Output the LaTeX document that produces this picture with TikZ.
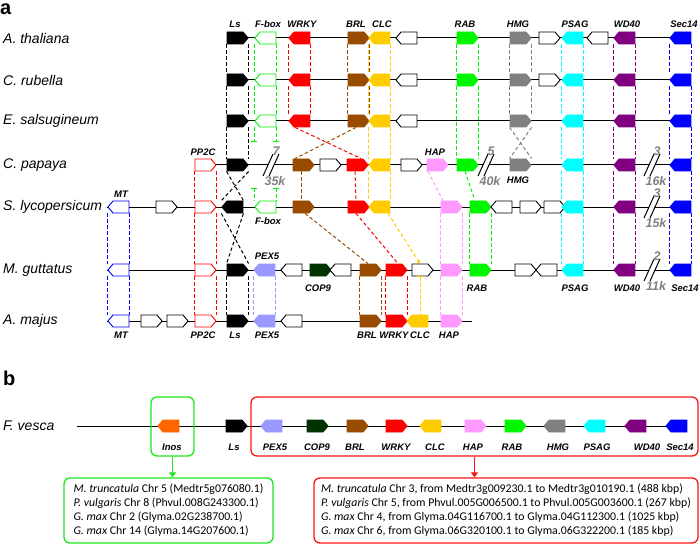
\documentclass[tikz,border=0pt]{standalone}
\usepackage{fontspec}
\setmainfont{Liberation Sans}
\newfontfamily\listfont{Carlito}
\usetikzlibrary{shapes.symbols, arrows.meta, backgrounds}

\definecolor{cBRL}{RGB}{153,76,0}
\definecolor{cCLC}{RGB}{255,204,0}
\definecolor{cRAB}{RGB}{0,245,0}
\definecolor{cHMG}{RGB}{128,128,128}
\definecolor{cPSAG}{RGB}{0,255,255}
\definecolor{cWD}{RGB}{128,0,128}
\definecolor{cSec}{RGB}{0,0,255}
\definecolor{cHAP}{RGB}{255,153,255}
\definecolor{cPEX}{RGB}{153,153,255}
\definecolor{cCOP}{RGB}{0,51,0}
\definecolor{cInos}{RGB}{255,102,0}
\definecolor{cGap}{RGB}{128,128,128}
\definecolor{cBoxG}{RGB}{30,230,30}
\definecolor{cBoxR}{RGB}{250,20,20}

\tikzset{
  gene/.style={signal, signal to=#1, signal pointer angle=100, minimum width=21pt, minimum height=12pt, inner sep=0pt, line width=0.9pt},
  gene/.default=east,
  filled/.style={fill=#1, draw=#1},
  hollow/.style={fill=white, draw=#1},
  hollow/.default=black,
  species/.style={anchor=west, inner sep=0pt, font=\fontsize{14}{16}\selectfont\itshape},
  genelabel/.style={inner sep=0pt, font=\fontsize{9.5}{11}\selectfont\bfseries\itshape},
  gaplabel/.style={inner sep=0pt, text=cGap, font=\fontsize{12.5}{14}\selectfont\bfseries\itshape},
  homolog/.style={line width=1pt, dash pattern=on 3.5pt off 2.5pt},
  chrom/.style={line width=1pt},
  listbox/.style={rounded corners=6pt, line width=1.3pt, align=left, inner sep=0pt, font=\listfont\fontsize{11.8}{14}\selectfont},
}

\begin{document}
\begin{tikzpicture}[x=1pt, y=-1pt]
  \useasboundingbox (0,0) rectangle (700,545);
  % Panel letters
  \node (panelA) [anchor=base west, inner sep=0pt, font=\fontsize{20}{22}\selectfont\bfseries] at (0,15) {a};
  \node (panelB) [anchor=base west, inner sep=0pt, font=\fontsize{20}{22}\selectfont\bfseries] at (3,385) {b};

  % A. thaliana
  \node (athName) [species] at (3,38) {A. thaliana};
  \node (athLs) [gene, filled=black] at (235,38) {};
  \node (athFbox) [gene=west, hollow=cRAB] at (268,38) {};
  \node (athWRKY) [gene=west, filled=red] at (302,38) {};
  \node (athBRL) [gene, filled=cBRL] at (356,38) {};
  \node (athCLC) [gene=west, filled=cCLC] at (382,38) {};
  \node (athX1) [gene=west, hollow] at (409,38) {};
  \node (athRAB) [gene, filled=cRAB] at (465,38) {};
  \node (athHMG) [gene, filled=cHMG] at (518,38) {};
  \node (athX2) [gene, hollow] at (547,38) {};
  \node (athPSAG) [gene=west, filled=cPSAG] at (575,38) {};
  \node (athX3) [gene=west, hollow] at (600,38) {};
  \node (athWD40) [gene=west, filled=cWD] at (627,38) {};
  \node (athSec14) [gene=west, filled=cSec] at (683,38) {};

  % C. rubella
  \node (cruName) [species] at (3,80) {C. rubella};
  \node (cruLs) [gene, filled=black] at (235,80) {};
  \node (cruFbox) [gene=west, hollow=cRAB] at (268,80) {};
  \node (cruWRKY) [gene=west, filled=red] at (302,80) {};
  \node (cruBRL) [gene, filled=cBRL] at (356,80) {};
  \node (cruCLC) [gene=west, filled=cCLC] at (382,80) {};
  \node (cruX1) [gene=west, hollow] at (409,80) {};
  \node (cruRAB) [gene, filled=cRAB] at (465,80) {};
  \node (cruHMG) [gene, filled=cHMG] at (518,80) {};
  \node (cruX2) [gene, hollow] at (547,80) {};
  \node (cruPSAG) [gene=west, filled=cPSAG] at (575,80) {};
  \node (cruWD40) [gene=west, filled=cWD] at (627,80) {};
  \node (cruSec14) [gene=west, filled=cSec] at (683,80) {};

  % E. salsugineum
  \node (esaName) [species] at (3,121) {E. salsugineum};
  \node (esaLs) [gene, filled=black] at (235,121) {};
  \node (esaFbox) [gene=west, hollow=cRAB] at (268,121) {};
  \node (esaWRKY) [gene=west, filled=red] at (302,121) {};
  \node (esaBRL) [gene, filled=cBRL] at (356,121) {};
  \node (esaCLC) [gene=west, filled=cCLC] at (382,121) {};
  \node (esaX1) [gene=west, hollow] at (409,121) {};
  \node (esaHMG) [gene, filled=cHMG] at (518,121) {};
  \node (esaPSAG) [gene=west, filled=cPSAG] at (575,121) {};
  \node (esaWD40) [gene=west, filled=cWD] at (627,121) {};
  \node (esaSec14) [gene=west, filled=cSec] at (683,121) {};

  % C. papaya
  \node (cpaName) [species] at (3,165) {C. papaya};
  \node (cpaPP2C) [gene, hollow=red] at (203,165) {};
  \node (cpaLs) [gene, filled=black] at (235,165) {};
  \node (cpaBRL) [gene, filled=cBRL] at (301,165) {};
  \node (cpaX1) [gene, hollow] at (328,165) {};
  \node (cpaWRKY) [gene, filled=red] at (355,165) {};
  \node (cpaCLC) [gene=west, filled=cCLC] at (382,165) {};
  \node (cpaX2) [gene, hollow] at (409,165) {};
  \node (cpaHAP) [gene, filled=cHAP] at (435,165) {};
  \node (cpaRAB) [gene, filled=cRAB] at (465,165) {};
  \node (cpaHMG) [gene, filled=cHMG] at (518,165) {};
  \node (cpaPSAG) [gene=west, filled=cPSAG] at (575,165) {};
  \node (cpaWD40) [gene=west, filled=cWD] at (627,165) {};
  \node (cpaSec14) [gene=west, filled=cSec] at (683,165) {};

  % S. lycopersicum
  \node (slyName) [species] at (3,207) {S. lycopersicum};
  \node (slyMT) [gene=west, hollow=cSec] at (121,207) {};
  \node (slyX1) [gene, hollow] at (164,207) {};
  \node (slyPP2C) [gene, hollow=red] at (203,207) {};
  \node (slyLs) [gene=west, filled=black] at (235,207) {};
  \node (slyFbox) [gene=west, hollow=cRAB] at (268,207) {};
  \node (slyBRL) [gene, filled=cBRL] at (301,207) {};
  \node (slyWRKY) [gene, filled=red] at (356,207) {};
  \node (slyCLC) [gene=west, filled=cCLC] at (382,207) {};
  \node (slyHAP) [gene, filled=cHAP] at (449,207) {};
  \node (slyRAB) [gene, filled=cRAB] at (478,207) {};
  \node (slyX2) [gene=west, hollow] at (504,207) {};
  \node (slyX3) [gene, hollow] at (528,207) {};
  \node (slyX4) [gene, hollow] at (552,207) {};
  \node (slyPSAG) [gene=west, filled=cPSAG] at (575,207) {};
  \node (slyWD40) [gene=west, filled=cWD] at (627,207) {};
  \node (slySec14) [gene=west, filled=cSec] at (683,207) {};

  % M. guttatus
  \node (mguName) [species] at (3,270) {M. guttatus};
  \node (mguMT) [gene=west, hollow=cSec] at (121,270) {};
  \node (mguPP2C) [gene, hollow=red] at (203,270) {};
  \node (mguLs) [gene, filled=black] at (235,270) {};
  \node (mguPEX5) [gene=west, filled=cPEX] at (267,270) {};
  \node (mguX1) [gene=west, hollow] at (294,270) {};
  \node (mguCOP9) [gene, filled=cCOP] at (318,270) {};
  \node (mguX2) [gene=west, hollow] at (343,270) {};
  \node (mguBRL) [gene, filled=cBRL] at (368,270) {};
  \node (mguWRKY) [gene, filled=red] at (394,270) {};
  \node (mguCLC) [gene, hollow] at (420,270) {};
  \node (mguHAP) [gene, filled=cHAP] at (449,270) {};
  \node (mguRAB) [gene, filled=cRAB] at (478,270) {};
  \node (mguX3) [gene, hollow] at (523,270) {};
  \node (mguX4) [gene=west, hollow] at (549,270) {};
  \node (mguPSAG) [gene=west, filled=cPSAG] at (575,270) {};
  \node (mguWD40) [gene=west, filled=cWD] at (627,270) {};
  \node (mguSec14) [gene=west, filled=cSec] at (683,270) {};

  % A. majus
  \node (amaName) [species] at (3,321) {A. majus};
  \node (amaMT) [gene=west, hollow=cSec] at (121,321) {};
  \node (amaX1) [gene, hollow] at (149,321) {};
  \node (amaX2) [gene, hollow] at (175,321) {};
  \node (amaPP2C) [gene, hollow=red] at (203,321) {};
  \node (amaLs) [gene, filled=black] at (235,321) {};
  \node (amaPEX5) [gene=west, filled=cPEX] at (267,321) {};
  \node (amaX3) [gene=west, hollow] at (294,321) {};
  \node (amaBRL) [gene, filled=cBRL] at (368,321) {};
  \node (amaWRKY) [gene, filled=red] at (394,321) {};
  \node (amaCLC) [gene=west, filled=cCLC] at (420,321) {};
  \node (amaHAP) [gene, filled=cHAP] at (449,321) {};
  \coordinate (amaEnd) at (472,321);

  % F. vesca
  \node (fveName) [species] at (3,426) {F. vesca};
  \coordinate (fveStart) at (77,426);
  \node (fveInos) [gene=west, filled=cInos] at (171,426) {};
  \node (fveLs) [gene, filled=black] at (234,426) {};
  \node (fvePEX5) [gene=west, filled=cPEX] at (274,426) {};
  \node (fveCOP9) [gene, filled=cCOP] at (315,426) {};
  \node (fveBRL) [gene, filled=cBRL] at (355,426) {};
  \node (fveWRKY) [gene, filled=red] at (394,426) {};
  \node (fveCLC) [gene=west, filled=cCLC] at (433,426) {};
  \node (fveHAP) [gene, filled=cHAP] at (473,426) {};
  \node (fveRAB) [gene, filled=cRAB] at (513,426) {};
  \node (fveHMG) [gene=west, filled=cHMG] at (557,426) {};
  \node (fvePSAG) [gene=west, filled=cPSAG] at (597,426) {};
  \node (fveWD40) [gene=west, filled=cWD] at (638,426) {};
  \node (fveSec14) [gene=west, filled=cSec] at (679,426) {};

  % Chromosomes
  \begin{scope}[on background layer]
    \draw[chrom] (athLs.west) -- (athSec14.east);
    \draw[chrom] (cruLs.west) -- (cruSec14.east);
    \draw[chrom] (esaLs.west) -- (esaSec14.east);
    \draw[chrom] (cpaPP2C.west) -- (cpaSec14.east);
    \draw[chrom] (slyMT.west) -- (slySec14.east);
    \draw[chrom] (mguMT.west) -- (mguSec14.east);
    \draw[chrom] (amaMT.west) -- (amaEnd);
    \draw[chrom] (fveStart) -- (fveSec14.east);
  \end{scope}

  % Breaks
  \foreach \x/\y/\n/\k [count=\i] in {271/165/7/35k, 486/165/5/40k, 652/165/3/16k, 652/207/3/15k, 652/270/2/11k} {
    \fill[white] (\x-8,\y+11) -- (\x+2,\y-11) -- (\x+8,\y-11) -- (\x-2,\y+11) -- cycle;
    \draw[chrom] (\x-8,\y+11) -- (\x+2,\y-11) (\x-2,\y+11) -- (\x+8,\y-11);
    \node (gapN\i) [gaplabel] at (\x+5,\y-13.5) {\n};
    \node (gapK\i) [gaplabel] at (\x+4,\y+16) {\k};
  }

  % Gene labels
  \foreach \t/\x in {Ls/235, F-box/268, WRKY/302, BRL/356, CLC/382, RAB/465, HMG/518, PSAG/575, WD40/627, Sec14/684}
    \node (top\x) [genelabel] at (\x,24) {\t};
  \node (labPP2C) [genelabel] at (203,152) {PP2C};
  \node (labHAP) [genelabel] at (435,152) {HAP};
  \node (labHMG) [genelabel] at (518,180) {HMG};
  \node (labMT) [genelabel] at (121,194) {MT};
  \node (labFbox) [genelabel] at (268,221) {F-box};
  \node (labPEX5) [genelabel] at (267,256) {PEX5};
  \foreach \t/\x in {COP9/318, RAB/477, PSAG/575, WD40/627, Sec14/685}
    \node (mgu\x) [genelabel] at (\x,288) {\t};
  \foreach \t/\x in {MT/121, PP2C/203, Ls/235, PEX5/267, BRL/367, WRKY/394, CLC/420, HAP/449}
    \node (ama\x) [genelabel] at (\x,335) {\t};
  \foreach \t/\x in {Inos/172, Ls/234, PEX5/275, COP9/317, BRL/355, WRKY/396, CLC/435, HAP/473, RAB/512, HMG/558, PSAG/597, WD40/647, Sec14/680}
    \node (fve\x) [genelabel] at (\x,447) {\t};

  % Homologs, same order
  \foreach \a/\b/\c in {athLs/cruLs/black, cruLs/esaLs/black, esaLs/cpaLs/black, mguLs/amaLs/black,
      athFbox/cruFbox/cRAB, cruFbox/esaFbox/cRAB,
      athWRKY/cruWRKY/red, cruWRKY/esaWRKY/red, mguWRKY/amaWRKY/red,
      athBRL/cruBRL/cBRL, cruBRL/esaBRL/cBRL, mguBRL/amaBRL/cBRL,
      athCLC/cruCLC/cCLC, cruCLC/esaCLC/cCLC, esaCLC/cpaCLC/cCLC, cpaCLC/slyCLC/cCLC,
      slyHAP/mguHAP/cHAP, mguHAP/amaHAP/cHAP,
      athRAB/cruRAB/cRAB, cruRAB/cpaRAB/cRAB, slyRAB/mguRAB/cRAB,
      athHMG/cruHMG/cHMG, cruHMG/esaHMG/cHMG,
      athPSAG/cruPSAG/cPSAG, cruPSAG/esaPSAG/cPSAG, esaPSAG/cpaPSAG/cPSAG, cpaPSAG/slyPSAG/cPSAG, slyPSAG/mguPSAG/cPSAG,
      athWD40/cruWD40/cWD, cruWD40/esaWD40/cWD, esaWD40/cpaWD40/cWD, cpaWD40/slyWD40/cWD, slyWD40/mguWD40/cWD,
      athSec14/cruSec14/cSec, cruSec14/esaSec14/cSec, esaSec14/cpaSec14/cSec, cpaSec14/slySec14/cSec, slySec14/mguSec14/cSec,
      cpaPP2C/slyPP2C/red, slyPP2C/mguPP2C/red, mguPP2C/amaPP2C/red,
      slyMT/mguMT/cSec, mguMT/amaMT/cSec, mguPEX5/amaPEX5/cPEX}
    \draw[homolog, \c] (\a.west |- \a.south) -- (\b.west |- \b.north)
      (\a.east |- \a.south) -- (\b.east |- \b.north);
  % Homologs, inverted
  \foreach \a/\b/\c in {esaHMG/cpaHMG/cHMG, cpaLs/slyLs/black, slyLs/mguLs/black}
    \draw[homolog, \c] (\a.west |- \a.south) -- (\b.east |- \b.north)
      (\a.east |- \a.south) -- (\b.west |- \b.north);
  % Single links
  \draw[homolog, red] ([xshift=-7pt]esaWRKY.south) -- ([xshift=6pt]cpaWRKY.north);
  \draw[homolog, cBRL] (esaBRL.south) -- ([xshift=-6pt]cpaBRL.north);
  \draw[homolog, cBRL] (cpaBRL.south) -- (slyBRL.north);
  \draw[homolog, red] (cpaWRKY.south) -- (slyWRKY.north);
  \draw[homolog, cHAP] ([xshift=-7pt]cpaHAP.south) -- ([xshift=-6pt]slyHAP.north);
  \draw[homolog, cRAB] (cpaRAB.south) -- ([xshift=-3pt]slyRAB.north);
  \draw[homolog, cBRL] ([xshift=4pt]slyBRL.south) -- (mguBRL.north);
  \draw[homolog, red] (slyWRKY.south) -- ([xshift=4pt]mguWRKY.north);
  \draw[homolog, cCLC, -{Triangle[length=3pt, width=4pt]}] ([xshift=6pt]slyCLC.south) -- (mguCLC.north);
  \draw[homolog, cCLC, {Bar[width=6pt]}-] (mguCLC.south) -- (amaCLC.north);
  % F-box ends
  \path (esaFbox.west |- esaFbox.south) ++(0,15) coordinate (esaFboxL);
  \path (esaFbox.east |- esaFbox.south) ++(0,15) coordinate (esaFboxR);
  \path (slyFbox.west |- slyFbox.north) ++(0,-13) coordinate (slyFboxL);
  \path (slyFbox.east |- slyFbox.north) ++(0,-13) coordinate (slyFboxR);
  \draw[homolog, cRAB, -{Bar[width=6pt]}] (esaFbox.west |- esaFbox.south) -- (esaFboxL);
  \draw[homolog, cRAB, -{Bar[width=6pt]}] (esaFbox.east |- esaFbox.south) -- (esaFboxR);
  \draw[homolog, cRAB, {Bar[width=6pt]}-] (slyFboxL) -- (slyFbox.west |- slyFbox.north);
  \draw[homolog, cRAB, {Bar[width=6pt]}-] (slyFboxR) -- (slyFbox.east |- slyFbox.north);

  % Panel b boxes
  \node (inosBox) [draw=cBoxG, line width=1.3pt, rounded corners=6pt, minimum width=43pt, minimum height=59pt] at (172.5,426.5) {};
  \node (blockBox) [draw=cBoxR, line width=1.3pt, rounded corners=6pt, minimum width=447pt, minimum height=59pt] at (474.5,426.5) {};
  \node (inosList) [listbox, draw=cBoxG, minimum width=209pt, minimum height=65pt] at (168.5,510.5) {\textit{M. truncatula} Chr 5 (Medtr5g076080.1)\\
    \textit{P. vulgaris} Chr 8 (Phvul.008G243300.1)\\
    \textit{G. max} Chr 2 (Glyma.02G238700.1)\\
    \textit{G. max} Chr 14 (Glyma.14G207600.1)};
  \node (blockList) [listbox, draw=cBoxR, minimum width=384pt, minimum height=65pt] at (506,510.5) {\textit{M. truncatula} Chr 3, from Medtr3g009230.1 to Medtr3g010190.1 (488 kbp)\\
    \textit{P. vulgaris} Chr 5, from Phvul.005G006500.1 to Phvul.005G003600.1 (267 kbp)\\
    \textit{G. max} Chr 4, from Glyma.04G116700.1 to Glyma.04G112300.1 (1025 kbp)\\
    \textit{G. max} Chr 6, from Glyma.06G320100.1 to Glyma.06G322200.1 (185 kbp)};
  % Arrow
  \draw[cBoxG, line width=1.3pt, -{Triangle[length=5pt, width=7pt]}] (inosBox.south) -- (inosBox.south |- inosList.north);
  \draw[cBoxR, line width=1.3pt, -{Triangle[length=5pt, width=7pt]}] (blockBox.south) -- (blockBox.south |- blockList.north);
\end{tikzpicture}
\end{document}
